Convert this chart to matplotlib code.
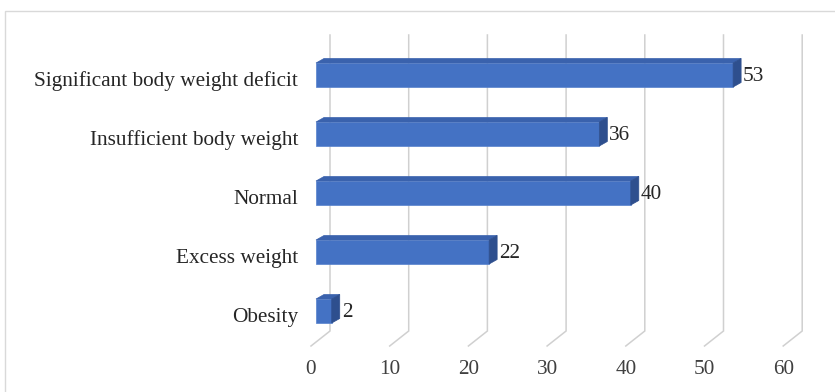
import matplotlib.pyplot as plt
from matplotlib.patches import Polygon, Rectangle

categories = ['Significant body weight deficit', 'Insufficient body weight',
              'Normal', 'Excess weight', 'Obesity']
values = [53, 36, 40, 22, 2]
ticks = [0, 10, 20, 30, 40, 50, 60]

front = '#4472C4'
top = '#3A62AD'
side = '#2E4F8E'
grid = '#D0D0D0'

plt.rcParams['font.family'] = ['Liberation Serif', 'DejaVu Serif']

fig = plt.figure(figsize=(8.35, 3.92), dpi=100)
ax = fig.add_axes([0, 0, 1, 1])
# scale: 7.87 px per unit on x, 59 px per category on y
ax.set_xlim(-316 / 7.87, (835 - 316) / 7.87)
ax.set_ylim((392 - 75) / 59, -75 / 59)
ax.axis('off')

# perspective offsets (in data units)
back_dx = 14 / 7.87
front_dx = -5 / 7.87
ddx = 8 / 7.87
ddy = 4.5 / 59
h = 12 / 59
y_top = -40 / 59
y_floor = 256 / 59
y_front = 271 / 59

for t in ticks:
    ax.plot([t + back_dx, t + back_dx, t + front_dx], [y_top, y_floor, y_front],
            color=grid, lw=1.1, zorder=1, solid_joinstyle='miter')
    ax.text(t + front_dx, 295 / 59, str(t), ha='center', va='center',
            fontsize=15.3, color='#404040')

for i, (cat, v) in enumerate(zip(categories, values)):
    c = i
    ax.add_patch(Rectangle((0, c - h), v, 2 * h, facecolor=front,
                           edgecolor='#5580cc', lw=0.5, zorder=3))
    ax.add_patch(Polygon([(0, c - h), (v, c - h), (v + ddx, c - h - ddy),
                          (ddx, c - h - ddy)], closed=True, facecolor=top,
                         edgecolor=top, lw=0.5, zorder=3))
    ax.add_patch(Polygon([(v, c - h), (v + ddx, c - h - ddy),
                          (v + ddx, c + h - ddy), (v, c + h)], closed=True,
                         facecolor=side, edgecolor=side, lw=0.5, zorder=3))
    ax.text(v + ddx + 0.25, c + 0.03, str(v), ha='left', va='center',
            fontsize=15.3, color='#262626', zorder=4)
    ax.text(-18 / 7.87, c + 0.11, cat, ha='right', va='center',
            fontsize=15.3, color='#262626')

fig.patches.append(Rectangle((5 / 835, -0.1), 1.2, 0.1 + (392 - 11) / 392,
                             transform=fig.transFigure, fill=False,
                             edgecolor='#D9D9D9', lw=1))

fig.savefig('out.png', dpi=100)
